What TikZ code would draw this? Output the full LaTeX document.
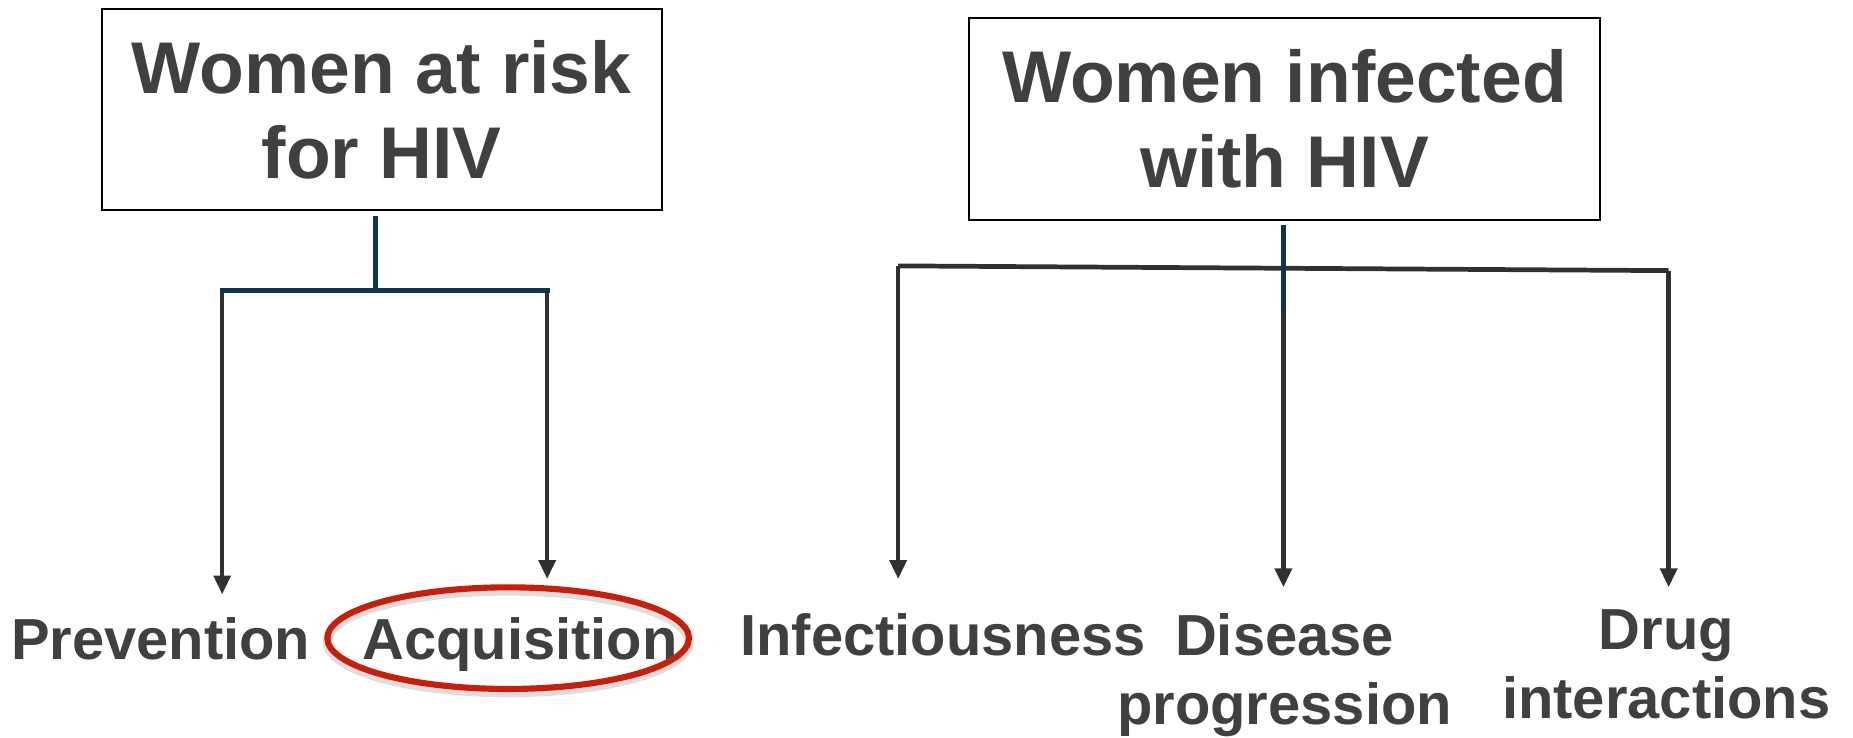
\documentclass[tikz,border=0pt]{standalone}
\usepackage{fontspec}
\setmainfont{Liberation Sans}
\usetikzlibrary{arrows.meta}
\definecolor{txt}{HTML}{404040}
\definecolor{navy}{HTML}{0D3550}
\definecolor{arr}{HTML}{303030}
\definecolor{ringred}{HTML}{C81E0A}
\tikzset{
  topbox/.style={draw=black,line width=0.8pt,fill=white,text=txt,align=center,
    font=\fontsize{31}{36}\selectfont\bfseries,inner sep=0pt},
  label/.style={text=txt,align=center,font=\fontsize{24.5}{29}\selectfont\bfseries,inner sep=0pt},
  stem/.style={draw=navy,line width=2pt},
  bar/.style={draw=arr,line width=2pt},
  down/.style={draw=arr,line width=1.9pt,-{Triangle[length=8pt,width=7pt]}},
}
\begin{document}
\begin{tikzpicture}[x=0.5pt,y=-0.5pt]
\useasboundingbox[fill=white] (0,0) rectangle (1568,624);
% boxes
\node[topbox,minimum width=237pt,minimum height=85pt] (risk) at (323,93) {Women at risk\\for HIV};
\node[topbox,minimum width=267pt,minimum height=85.5pt] (inf) at (1087,100.5) {Women infected\\with HIV};
% bottom labels
\node[label,anchor=base] (prev) at (136,558) {Prevention};
\node[label,anchor=base] (acq) at (440,558) {Acquisition};
\node[label,anchor=base] (infec) at (798,555) {Infectiousness};
\node[label,anchor=base] (dis) at (1087,613) {Disease\\progression};
\node[label,anchor=base] (drug) at (1410,608) {Drug\\interactions};
% left tree
\coordinate (ls) at (318,183);
\coordinate (lj) at (318,246);
\coordinate (ll) at (188,246);
\coordinate (lr) at (463,246);
\coordinate (llt) at (188,503);
\coordinate (lrt) at (463,490);
\draw[down] (ll) -- (llt);
\draw[down] (lr) -- (lrt);
\draw[stem,line cap=rect] (ll) -- (lr);
\draw[stem] (ls) -- (lj);
% right tree
\coordinate (rs) at (1086,190);
\coordinate (rm) at (1086,265);
\coordinate (rj) at (1086,227);
\coordinate (rl) at (760,225);
\coordinate (rr) at (1412,229);
\coordinate (rlt) at (760,490);
\coordinate (rmt) at (1086,497);
\coordinate (rrt) at (1412,497);
\draw[bar] (rl) -- (rr);
\draw[down] (rl) -- (rlt);
\draw[down] (rr) -- (rrt);
\draw[down] (rj) -- (rmt);
\draw[stem] (rs) -- (rm);
% red ellipse with soft shadow
\coordinate (ec) at (430,540);
\draw[black!25,line width=4pt,opacity=0.5] (430,543) ellipse [x radius=153,y radius=43];
\draw[ringred,line width=2.6pt] (ec) ellipse [x radius=153,y radius=43];
\end{tikzpicture}
\end{document}
